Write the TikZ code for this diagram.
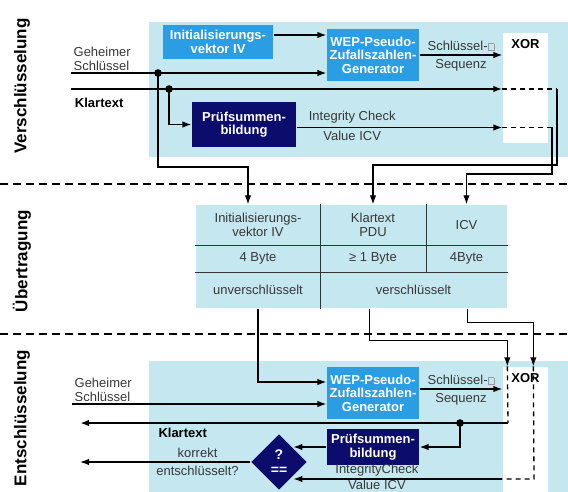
\documentclass[tikz,border=0pt]{standalone}
\usepackage{fontspec}
\setmainfont{Liberation Sans}
\usetikzlibrary{arrows.meta,calc,positioning,shapes.geometric}
\definecolor{panel}{RGB}{197,232,240}
\definecolor{ivblue}{RGB}{43,157,227}
\definecolor{navy}{RGB}{12,12,108}
\definecolor{labelgray}{RGB}{55,55,55}
\newcommand{\softbox}{{\color{black!40}\setlength\fboxsep{0pt}\setlength\fboxrule{0.6pt}\fbox{\rule{0pt}{6.5pt}\rule{5.5pt}{0pt}}}}

\begin{document}
\begin{tikzpicture}[x=1pt,y=-1pt,>={Latex[length=9pt,width=6.5pt]},line width=1.3pt,
  every node/.style={font=\fontsize{13}{13.5}\selectfont,text=labelgray},
  blue box/.style={fill=ivblue,text=white,font=\fontsize{13}{13.5}\selectfont\bfseries,align=center,inner sep=0pt},
  navy box/.style={fill=navy,text=white,font=\fontsize{13}{13.5}\selectfont\bfseries,align=center,inner sep=0pt},
  xor box/.style={fill=white,inner sep=0pt},
  xor label/.style={font=\fontsize{13}{13.5}\selectfont\bfseries,text=black},
  cell/.style={fill=panel,inner sep=0pt,align=center},
  phase/.style={rotate=90,font=\fontsize{17}{17}\selectfont\bfseries,text=black},
  grid line/.style={line width=1.4pt,black!80},
  sep line/.style={line width=1.2pt,dash pattern=on 8pt off 5pt},
  inner dash/.style={dash pattern=on 5pt off 4pt},
  thick line/.style={line width=2.8pt},
  bold label/.style={font=\fontsize{13}{13.5}\selectfont\bfseries,text=black}]
\path[use as bounding box,clip] (0,0) rectangle (568,492);

\fill[panel] (149,22) rectangle (568,157);
\fill[panel] (149,361) rectangle (568,492);

\node[phase] (enc) at (22,86) {Verschlüsselung};
\node[phase] (trans) at (22,261) {Übertragung};
\node[phase] (dec) at (22,418) {Entschlüsselung};
\draw[sep line] (0,184) -- (568,184);
\draw[sep line] (0,334) -- (568,334);

% Verschluesselung
\node[blue box,minimum width=110pt,minimum height=34pt] (iv) at (218,42) {Initialisierungs-\\vektor IV};
\node[blue box,minimum width=92pt,minimum height=52pt] (wep) at (373,55) {WEP-Pseudo-\\Zufallszahlen-\\Generator};
\node[xor box,minimum width=45pt,minimum height=110pt] (xor) at (525.5,88) {};
\node[xor label,below=3pt of xor.north] (xortext) {XOR};
\node[navy box,minimum width=104pt,minimum height=45pt] (sum) at (244,124.5) {Prüfsummen-\\bildung};

\coordinate (keyin) at (71,73);
\coordinate (keydot) at (158,73);
\coordinate (txtin) at (71,89);
\coordinate (txtdot) at (169,89);
\coordinate (txtout) at (557,89);
\coordinate (icvout) at (552,127.5);

\draw[->] (keyin) node[above right,align=left,inner sep=2pt] {Geheimer\\Schlüssel} -- (keyin -| wep.west);
\draw[->] ([yshift=7pt]iv.east) -- ([yshift=7pt]iv.east -| wep.west);
\draw[thick line,->] (txtin) -- (txtin -| xor.west);
\node[bold label,below right=5pt and 0pt of txtin] (txtlabel) {Klartext};
\fill (keydot) circle (3.8pt);
\fill (txtdot) circle (3.8pt);
\draw[->] (txtdot) |- (sum.west);
\draw[->] (wep.east) -- (wep.east -| xor.west)
  node[midway,above] {Schlüssel-\softbox} node[midway,below] {Sequenz};
\draw[->] ([yshift=-3pt]sum.east) -- ([yshift=-3pt]sum.east -| xor.west)
  node[pos=0.27,above] {Integrity Check} node[pos=0.27,below] {Value ICV};
\draw[inner dash] (txtin -| xor.west) -- (txtout);
\draw[inner dash] (icvout -| xor.west) -- (icvout);

% Uebertragung
\node[cell,minimum width=124pt,minimum height=40pt] (ivtop) at (258,225) {Initialisierungs-\\vektor IV};
\node[cell,minimum width=106pt,minimum height=40pt] (pdu) at (373,225) {Klartext\\PDU};
\node[cell,minimum width=81pt,minimum height=40pt] (icvtop) at (466.5,225) {ICV};
\node[cell,minimum width=124pt,minimum height=27pt] (ivlen) at (258,258.5) {4 Byte};
\node[cell,minimum width=106pt,minimum height=27pt] (pdulen) at (373,258.5) {≥ 1 Byte};
\node[cell,minimum width=81pt,minimum height=27pt] (icvlen) at (466.5,258.5) {4Byte};
\node[cell,minimum width=124pt,minimum height=36pt] (plain) at (258,290) {unverschlüsselt};
\node[cell,minimum width=187pt,minimum height=36pt] (cipher) at (413.5,290) {verschlüsselt};
\draw[grid line] (ivtop.south west) -- (icvtop.south east);
\draw[grid line] (ivlen.south west) -- (icvlen.south east);
\draw[grid line] (ivtop.north east) -- (plain.south east);
\draw[grid line] (pdu.north east) -- (pdulen.south east);

\draw[->] (keydot) -- ++(0,94) -| ([xshift=-10pt]ivtop.north);
\draw[->] (txtout) -- ++(0,76) -| (pdu.north);
\draw[->] (icvout) -- ++(0,46.5) -| (icvtop.north);

% Entschluesselung
\node[blue box,minimum width=92pt,minimum height=52pt] (wep2) at (373,393) {WEP-Pseudo-\\Zufallszahlen-\\Generator};
\node[xor box,minimum width=45pt,minimum height=126pt] (xor2) at (525.5,430) {};
\node[xor label,below=3pt of xor2.north] (xortext2) {XOR};
\node[navy box,minimum width=92pt,minimum height=36pt] (sum2) at (373,447) {Prüfsummen-\\bildung};
\node[diamond,fill=navy,text=white,font=\fontsize{14}{15}\selectfont\bfseries,align=center,
  inner sep=0pt,minimum width=56pt,minimum height=56pt] (check) at (279,462) {?\\==};

\coordinate (key2in) at (72,404);
\coordinate (txtjoin) at (508,423);
\coordinate (txtdot2) at (460,423);
\coordinate (txtend) at (80,423);
\coordinate (icvjoin) at (534,479);
\coordinate (resend) at (80,462);

\draw[->] (plain.south) |- ([yshift=11pt]wep2.west);
\draw[->] ([xshift=50pt]cipher.south west) -- ++(0,32) -| ([xshift=5pt]xor2.north west);
\draw[->] ([xshift=-40pt]cipher.south east) -- ++(0,14) -| ([xshift=31pt]xor2.north west);
\draw[inner dash] ([xshift=5pt]xor2.north west) -- (txtjoin);
\draw[inner dash] ([xshift=31pt]xor2.north west) -- (icvjoin) -- (icvjoin -| xor2.west);

\draw[->] (key2in) node[above right,align=left,inner sep=2pt] {Geheimer\\Schlüssel} -- (key2in -| wep2.west);
\draw[->] ([yshift=4pt]wep2.east) -- ([yshift=4pt]wep2.east -| xor2.west)
  node[midway,above] {Schlüssel-\softbox} node[midway,below] {Sequenz};
\draw[thick line,->] (txtjoin) -- (txtend) node[bold label,pos=0.76,below] {Klartext};
\fill (txtdot2) circle (3.8pt);
\draw[->] (txtdot2) |- (sum2.east);
\draw[->] (sum2.west) -- (sum2.west -| check.north east);
\draw[->] (icvjoin -| xor2.west) -- (icvjoin -| check.south east)
  node[pos=0.6,above,inner sep=2pt] {IntegrityCheck} node[pos=0.6,below,inner sep=0.5pt] {Value ICV};
\draw[->] (check.west) -- (resend)
  node[pos=0.31,above] {korrekt} node[pos=0.31,below] {entschlüsselt?};
\end{tikzpicture}
\end{document}
